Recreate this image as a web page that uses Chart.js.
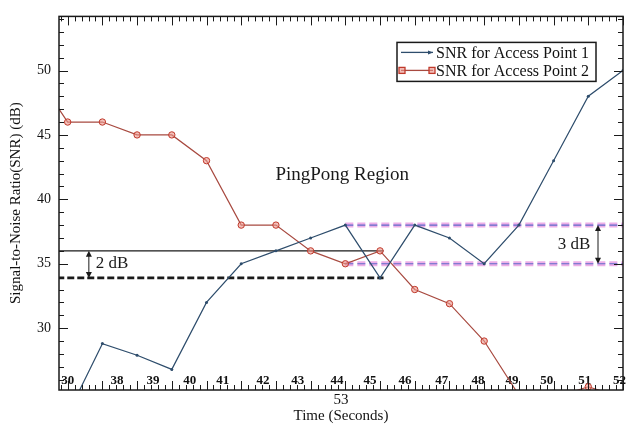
<!DOCTYPE html>
<html>
<head>
<meta charset="utf-8">
<script src="https://cdn.jsdelivr.net/npm/chart.js@4.4.0/dist/chart.umd.min.js"></script>
<style>
html, body { margin: 0; padding: 0; background: #fff; }
</style>
</head>
<body>
<canvas id="snrChart" width="633" height="430"></canvas>
<script>
// one sample per top major tick
var steps = [-1, 0, 1, 2, 3, 4, 5, 6, 7, 8, 9, 10, 11, 12, 13, 14, 15, 16];
var snrAP1 = [null, 23.3, 28.8, 27.9, 26.8, 32, 35, 36, 37, 38, 33.9, 38, 37, 35, 38, 43, 48, 50];
var snrAP2 = [50, 46, 46, 45, 45, 43, 38, 38, 36, 35, 36, 33, 31.9, 29, 24.8, 24.6, 25.45, 24.6];

// bottom tick labels and where they sit along the axis
var timeLabels = ['30', '38', '39', '40', '41', '42', '43', '44', '45', '46', '47', '48', '49', '50', '51', '52'];
var timeLabelPos = [0, 1.42, 2.46, 3.52, 4.47, 5.63, 6.63, 7.76, 8.71, 9.72, 10.78, 11.82, 12.8, 13.8, 14.9, 15.9];
var snrTicks = [30, 35, 40, 45, 50];

// reference levels
var handoverX = [-0.3, 9.1];
var handoverLevels = [36, 33.9];   // 2 dB gap
var pingpongX = [8, 16.1];
var pingpongLevels = [38, 35];     // 3 dB gap

function pts(ys) {
    return steps.map((s, i) => ({ x: s, y: ys[i] }));
}
function seg(xs, level) {
    return xs.map(x => ({ x: x, y: level }));
}

function arrow(ctx, x, y1, y2) {
    ctx.beginPath();
    ctx.moveTo(x, y1 + 3);
    ctx.lineTo(x, y2 - 3);
    ctx.stroke();
    [[y1, 1], [y2, -1]].forEach(([y, d]) => {
        ctx.beginPath();
        ctx.moveTo(x, y);
        ctx.lineTo(x - 3, y + 6 * d);
        ctx.lineTo(x + 3, y + 6 * d);
        ctx.closePath();
        ctx.fill();
    });
}

const decorations = {
    id: 'decorations',
    afterDraw(chart) {
        const { ctx, chartArea: a, scales: { x, y } } = chart;
        ctx.save();
        ctx.strokeStyle = '#1a1a1a';
        ctx.fillStyle = '#1a1a1a';
        ctx.lineWidth = 1.5;
        ctx.strokeRect(a.left, a.top, a.right - a.left, a.bottom - a.top);

        // inward ticks
        ctx.lineWidth = 1;
        ctx.beginPath();
        for (let i = Math.ceil(x.min * 5); i <= Math.floor(x.max * 5); i++) {
            const px = Math.round(x.getPixelForValue(i / 5)) + 0.5;
            const len = i % 5 === 0 ? 9 : 5;
            ctx.moveTo(px, a.top); ctx.lineTo(px, a.top + len);
            ctx.moveTo(px, a.bottom); ctx.lineTo(px, a.bottom - len);
        }
        for (let v = Math.ceil(y.min); v <= Math.floor(y.max); v++) {
            const py = Math.round(y.getPixelForValue(v)) + 0.5;
            const len = v % 5 === 0 ? 9 : 5;
            ctx.moveTo(a.left, py); ctx.lineTo(a.left + len, py);
            ctx.moveTo(a.right, py); ctx.lineTo(a.right - len, py);
        }
        ctx.stroke();

        // gap arrows and notes
        arrow(ctx, x.getPixelForValue(0.61), y.getPixelForValue(handoverLevels[0]), y.getPixelForValue(handoverLevels[1]));
        arrow(ctx, x.getPixelForValue(15.28), y.getPixelForValue(pingpongLevels[0]), y.getPixelForValue(pingpongLevels[1]));
        ctx.font = '17px "Liberation Serif"';
        ctx.textBaseline = 'middle';
        ctx.textAlign = 'left';
        ctx.fillText('2 dB', x.getPixelForValue(0.81), y.getPixelForValue(35));
        ctx.textAlign = 'right';
        ctx.fillText('3 dB', x.getPixelForValue(15.06), y.getPixelForValue(36.5));
        ctx.font = '19px "Liberation Serif"';
        ctx.textAlign = 'center';
        ctx.fillText('PingPong Region', x.getPixelForValue(7.91), y.getPixelForValue(41.9));

        // legend box
        const lx = a.right - 226, ly = a.top + 26;
        ctx.lineWidth = 1.5;
        ctx.strokeStyle = '#1a1a1a';
        ctx.strokeRect(lx, ly, 199, 39);
        ctx.font = '16px "Liberation Serif"';
        ctx.textAlign = 'left';
        const ds = chart.data.datasets;
        [0, 1].forEach(i => {
            const yy = ly + 10 + i * 18;
            ctx.strokeStyle = ds[i].borderColor;
            ctx.lineWidth = 1.3;
            ctx.beginPath();
            ctx.moveTo(lx + 4, yy);
            ctx.lineTo(lx + 36, yy);
            ctx.stroke();
            if (i === 0) {
                ctx.fillStyle = ds[i].borderColor;
                ctx.beginPath();
                ctx.moveTo(lx + 36, yy);
                ctx.lineTo(lx + 31, yy - 2);
                ctx.lineTo(lx + 31, yy + 2);
                ctx.closePath();
                ctx.fill();
            } else {
                ctx.fillStyle = ds[i].pointBackgroundColor;
                ctx.strokeStyle = ds[i].pointBorderColor;
                [lx + 5, lx + 35].forEach(cx => {
                    ctx.fillRect(cx - 3, yy - 3, 6, 6);
                    ctx.strokeRect(cx - 3, yy - 3, 6, 6);
                });
            }
            ctx.fillStyle = '#111';
            ctx.fillText(ds[i].label, lx + 39, yy + 1);
        });
        ctx.restore();
    }
};

const serif = 'Liberation Serif';

const data = {
    datasets: [
        {
            label: 'SNR for Access Point 1',
            data: pts(snrAP1),
            borderColor: '#2e4d6c',
            backgroundColor: '#2e4d6c',
            borderWidth: 1.2,
            pointRadius: 1.5,
            pointBackgroundColor: '#2e4d6c',
            pointBorderWidth: 0,
            tension: 0
        },
        {
            label: 'SNR for Access Point 2',
            data: pts(snrAP2),
            borderColor: '#a84a40',
            backgroundColor: '#a84a40',
            borderWidth: 1.2,
            pointRadius: 3.2,
            pointBackgroundColor: 'rgba(235,150,140,0.6)',
            pointBorderColor: '#c0392b',
            pointBorderWidth: 1,
            tension: 0
        },
        { data: seg(handoverX, handoverLevels[0]), borderColor: '#1a1a1a', borderWidth: 1.4, pointRadius: 0 },
        { data: seg(handoverX, handoverLevels[1]), borderColor: '#1a1a1a', borderWidth: 2.8, borderDash: [7, 3], pointRadius: 0 },
        { data: seg(pingpongX, pingpongLevels[0]), borderColor: 'rgba(80,100,200,0.9)', borderWidth: 1.2, borderDash: [8, 4], pointRadius: 0 },
        { data: seg(pingpongX, pingpongLevels[1]), borderColor: 'rgba(80,100,200,0.9)', borderWidth: 1.2, borderDash: [8, 4], pointRadius: 0 },
        { data: seg(pingpongX, pingpongLevels[0]), borderColor: 'rgba(225,120,215,0.6)', borderWidth: 5, borderDash: [8, 4], pointRadius: 0 },
        { data: seg(pingpongX, pingpongLevels[1]), borderColor: 'rgba(225,120,215,0.6)', borderWidth: 5, borderDash: [8, 4], pointRadius: 0 }
    ]
};

const config = {
    type: 'line',
    data: data,
    options: {
        responsive: false,
        animation: false,
        devicePixelRatio: 1,
        layout: { padding: { top: 7, right: 10, left: 0, bottom: 0 } },
        plugins: { legend: { display: false }, tooltip: { enabled: false } },
        scales: {
            x: {
                type: 'linear',
                min: -0.25,
                max: 16,
                grid: { display: false, drawTicks: false },
                border: { display: false },
                afterBuildTicks: s => { s.ticks = timeLabelPos.map(v => ({ value: v })); },
                afterFit: s => { s.height = 40; },
                ticks: {
                    autoSkip: false, maxRotation: 0, minRotation: 0, mirror: true, padding: 2,
                    color: '#111', font: { family: serif, size: 13, weight: 'bold' },
                    callback: (v, i) => timeLabels[i]
                },
                title: {
                    display: true, text: ['53', 'Time (Seconds)'], color: '#111',
                    font: { family: serif, size: 15, lineHeight: 1.07 },
                    padding: { top: 0, bottom: 6 }
                }
            },
            y: {
                min: 25.2,
                max: 54.2,
                grid: { display: false, drawTicks: false },
                border: { display: false },
                afterBuildTicks: s => { s.ticks = snrTicks.map(v => ({ value: v })); },
                afterFit: s => { s.width = 59; },
                ticks: { padding: 8, color: '#111', font: { family: serif, size: 14 } },
                title: {
                    display: true, text: 'Signal-to-Noise Ratio(SNR) (dB)', color: '#111',
                    font: { family: serif, size: 15, lineHeight: 1.1 },
                    padding: { top: 8, bottom: 0 }
                }
            }
        }
    },
    plugins: [decorations]
};

const snrChart = new Chart(document.getElementById('snrChart'), config);
</script>
</body>
</html>
